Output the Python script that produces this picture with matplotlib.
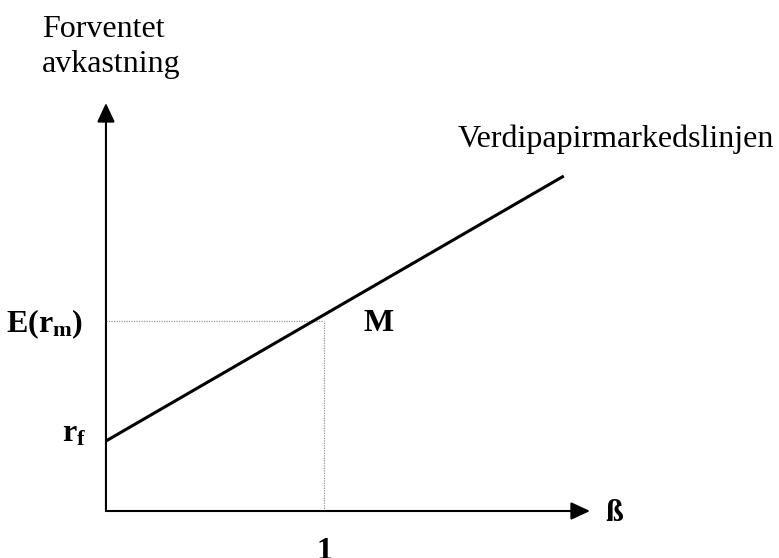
import matplotlib
matplotlib.use('Agg')
import matplotlib.pyplot as plt

plt.rcParams['font.family'] = ['Liberation Serif', 'DejaVu Serif']
plt.rcParams['mathtext.fontset'] = 'custom'
plt.rcParams['mathtext.rm'] = 'Liberation Serif'
plt.rcParams['mathtext.bf'] = 'Liberation Serif:bold'
plt.rcParams['mathtext.it'] = 'Liberation Serif:italic'

# Verdipapirmarkedslinjen (beta, forventet avkastning)
sml_beta = [0.0, 2.1]
sml_return = [0.70, 3.35]

# markedsporteføljen M
beta_m = 1.0
return_m = 1.90

# aksene
x_axis_end = 2.22
y_axis_end = 4.08

fig = plt.figure(figsize=(7.79, 5.58), dpi=100)
ax = fig.add_axes([0, 0, 1, 1])
ax.set_xlim(-0.486, 3.087)
ax.set_ylim(-0.47, 5.11)
ax.axis('off')

# aksepiler
arrow = dict(arrowstyle='-|>,head_length=0.58,head_width=0.27', color='black',
             lw=1.5, mutation_scale=20, shrinkA=0, shrinkB=0)
ax.annotate('', xy=(x_axis_end, 0), xytext=(0, 0), arrowprops=arrow)
ax.annotate('', xy=(0, y_axis_end), xytext=(0, 0), arrowprops=arrow)

# stiplede hjelpelinjer
ax.plot([0, beta_m], [return_m, return_m], color='#999999', lw=0.9, ls=(0, (1, 1)))
ax.plot([beta_m, beta_m], [0, return_m], color='#999999', lw=0.9, ls=(0, (1, 1)))

# SML
ax.plot(sml_beta, sml_return, color='black', lw=2.2, solid_capstyle='butt')

fs = 23
ax.text(-0.294, 4.74, 'Forventet', fontsize=fs, ha='left', va='baseline')
ax.text(-0.294, 4.39, 'avkastning', fontsize=fs, ha='left', va='baseline')
ax.text(1.615, 3.64, 'Verdipapirmarkedslinjen', fontsize=fs, ha='left', va='baseline')

ax.text(-0.106, 1.79, r'$\mathbf{E(r_m)}$', fontsize=fs, ha='right', va='baseline')
ax.text(-0.092, 0.69, r'$\mathbf{r_f}$', fontsize=fs, ha='right', va='baseline')
ax.text(1.183, 1.80, 'M', fontsize=fs, fontweight='bold', ha='left', va='baseline')
ax.text(beta_m, -0.26, '1', fontsize=fs, fontweight='bold', ha='center', va='top')
ax.text(2.289, -0.10, 'ß', fontsize=fs, fontweight='bold', ha='left', va='baseline')

fig.savefig('out.png', dpi=100)
